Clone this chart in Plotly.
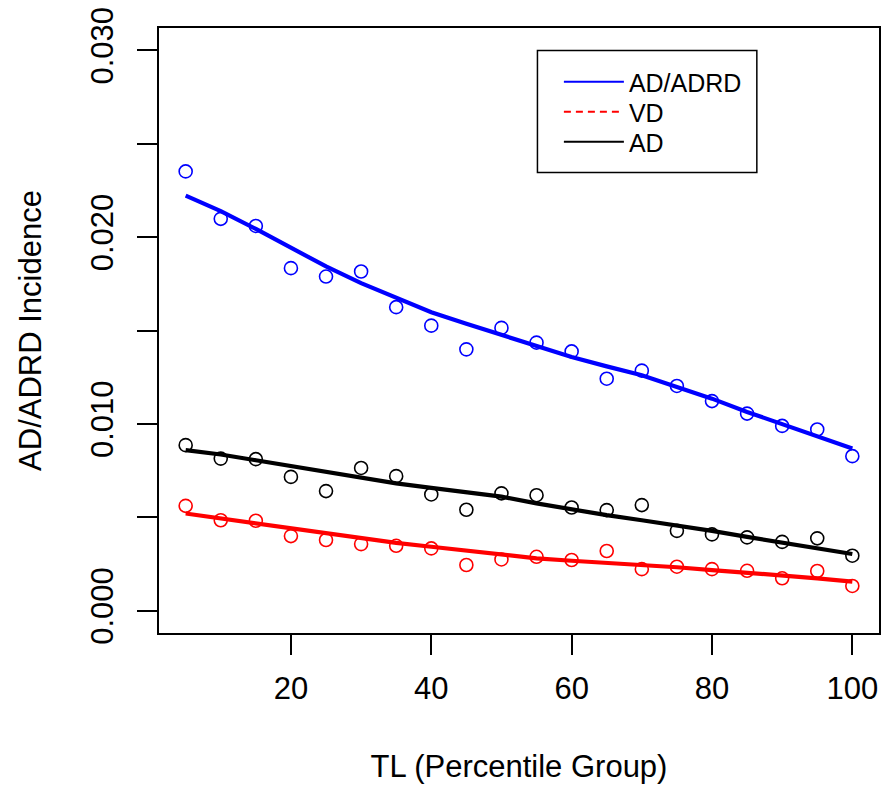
import plotly.graph_objects as go

# ---- data ----
tl_groups = [5, 10, 15, 20, 25, 30, 35, 40, 45, 50, 55, 60, 65, 70, 75, 80, 85, 90, 95, 100]

adrd_obs = [0.02352, 0.02098, 0.02060, 0.01834, 0.01789, 0.01816, 0.01625, 0.01526, 0.01399, 0.01514,
            0.01435, 0.01388, 0.01242, 0.01285, 0.01203, 0.01122, 0.01055, 0.00989, 0.00970, 0.00827]
adrd_fit = [0.02222, 0.02139, 0.02044, 0.01943, 0.01843, 0.01754, 0.01675, 0.01598, 0.01536, 0.01478,
            0.01420, 0.01358, 0.01308, 0.01260, 0.01197, 0.01135, 0.01064, 0.00998, 0.00934, 0.00868]

vd_obs = [0.00561, 0.00484, 0.00481, 0.00399, 0.00378, 0.00356, 0.00347, 0.00333, 0.00244, 0.00274,
          0.00288, 0.00271, 0.00319, 0.00222, 0.00235, 0.00222, 0.00213, 0.00173, 0.00212, 0.00132]
vd_fit = [0.00520, 0.00494, 0.00467, 0.00440, 0.00413, 0.00387, 0.00363, 0.00342, 0.00320, 0.00301,
          0.00280, 0.00267, 0.00256, 0.00244, 0.00232, 0.00217, 0.00203, 0.00189, 0.00173, 0.00155]

ad_obs = [0.00886, 0.00814, 0.00811, 0.00716, 0.00640, 0.00764, 0.00720, 0.00622, 0.00540, 0.00628,
          0.00618, 0.00552, 0.00538, 0.00565, 0.00427, 0.00408, 0.00392, 0.00368, 0.00387, 0.00294]
ad_fit = [0.00859, 0.00836, 0.00805, 0.00775, 0.00743, 0.00713, 0.00681, 0.00657, 0.00636, 0.00610,
          0.00574, 0.00542, 0.00511, 0.00484, 0.00458, 0.00427, 0.00395, 0.00363, 0.00333, 0.00303]

x_ticks = [20, 40, 60, 80, 100]
y_ticks = [0.000, 0.005, 0.010, 0.015, 0.020, 0.025, 0.030]
y_ticklabels = ["0.000", "", "0.010", "", "0.020", "", "0.030"]

series = [
    ("AD/ADRD", adrd_obs, adrd_fit, "#0000FF", "solid"),
    ("VD", vd_obs, vd_fit, "#FF0000", "7px,5px"),
    ("AD", ad_obs, ad_fit, "#000000", "solid"),
]

FONT = "Liberation Sans, Arial, sans-serif"

W, H = 884, 789
L, R, T, B = 159, 3, 28, 156
pw, ph = W - L - R, H - T - B

def px_x(p):
    return (p - L) / pw

def px_y(p):
    return (H - B - p) / ph

legend_ids = ["legend", "legend2", "legend3"]
legend_rows = [82, 112, 142]

fig = go.Figure()
for name, obs, fit, color, dash in series:
    fig.add_trace(go.Scatter(
        x=tl_groups, y=obs, mode="markers", showlegend=False,
        marker=dict(symbol="circle-open", size=13, color=color, line=dict(width=1.6, color=color)),
    ))
    fig.add_trace(go.Scatter(
        x=tl_groups, y=fit, mode="lines", showlegend=False,
        line=dict(color=color, width=4.2),
    ))
for (name, obs, fit, color, dash), lid in zip(series, legend_ids):
    fig.add_trace(go.Scatter(
        x=[None], y=[None], mode="lines", name=name, showlegend=True, legend=lid,
        line=dict(color=color, width=2, dash=dash),
    ))

fig.add_shape(type="rect", xref="paper", yref="paper",
              x0=px_x(538.5), x1=px_x(758.5), y0=px_y(172.5), y1=px_y(50.5),
              line=dict(color="black", width=1.5), fillcolor="rgba(0,0,0,0)", layer="above")

legend_common = dict(
    xanchor="left", yanchor="middle",
    bgcolor="rgba(0,0,0,0)", borderwidth=0,
    font=dict(size=25, family=FONT, color="black"),
    itemwidth=60,
)
legends = {}
for lid, row in zip(legend_ids, legend_rows):
    legends[lid] = dict(x=px_x(560), y=px_y(row), **legend_common)

fig.update_layout(
    width=W, height=H, autosize=False,
    margin=dict(l=L, r=R, t=T, b=B, pad=0),
    paper_bgcolor="white", plot_bgcolor="white",
    font=dict(family=FONT, color="black"),
    showlegend=True,
    **legends,
    xaxis=dict(
        range=[1.2, 103.8], tickmode="array", tickvals=x_ticks,
        ticks="outside", ticklen=20, tickwidth=1.5, tickcolor="black",
        showline=True, mirror=True, linecolor="black", linewidth=1.5,
        showgrid=False, zeroline=False,
        tickfont=dict(size=31, family=FONT, color="black"),
        ticklabelstandoff=7,
        title=dict(text="TL (Percentile Group)", font=dict(size=31, family=FONT, color="black"), standoff=50),
    ),
    yaxis=dict(
        range=[-0.0012, 0.0312], tickmode="array", tickvals=y_ticks, ticktext=y_ticklabels,
        ticks="outside", ticklen=20, tickwidth=1.5, tickcolor="black",
        showline=True, mirror=True, linecolor="black", linewidth=1.5,
        showgrid=False, zeroline=False, tickangle=-90,
        tickfont=dict(size=31, family=FONT, color="black"),
        ticklabelstandoff=12,
        title=dict(text="AD/ADRD Incidence", font=dict(size=31, family=FONT, color="black"), standoff=34),
    ),
)

fig.write_html("out.html", config={"displayModeBar": False},
               post_script="document.body.style.margin='0';")
